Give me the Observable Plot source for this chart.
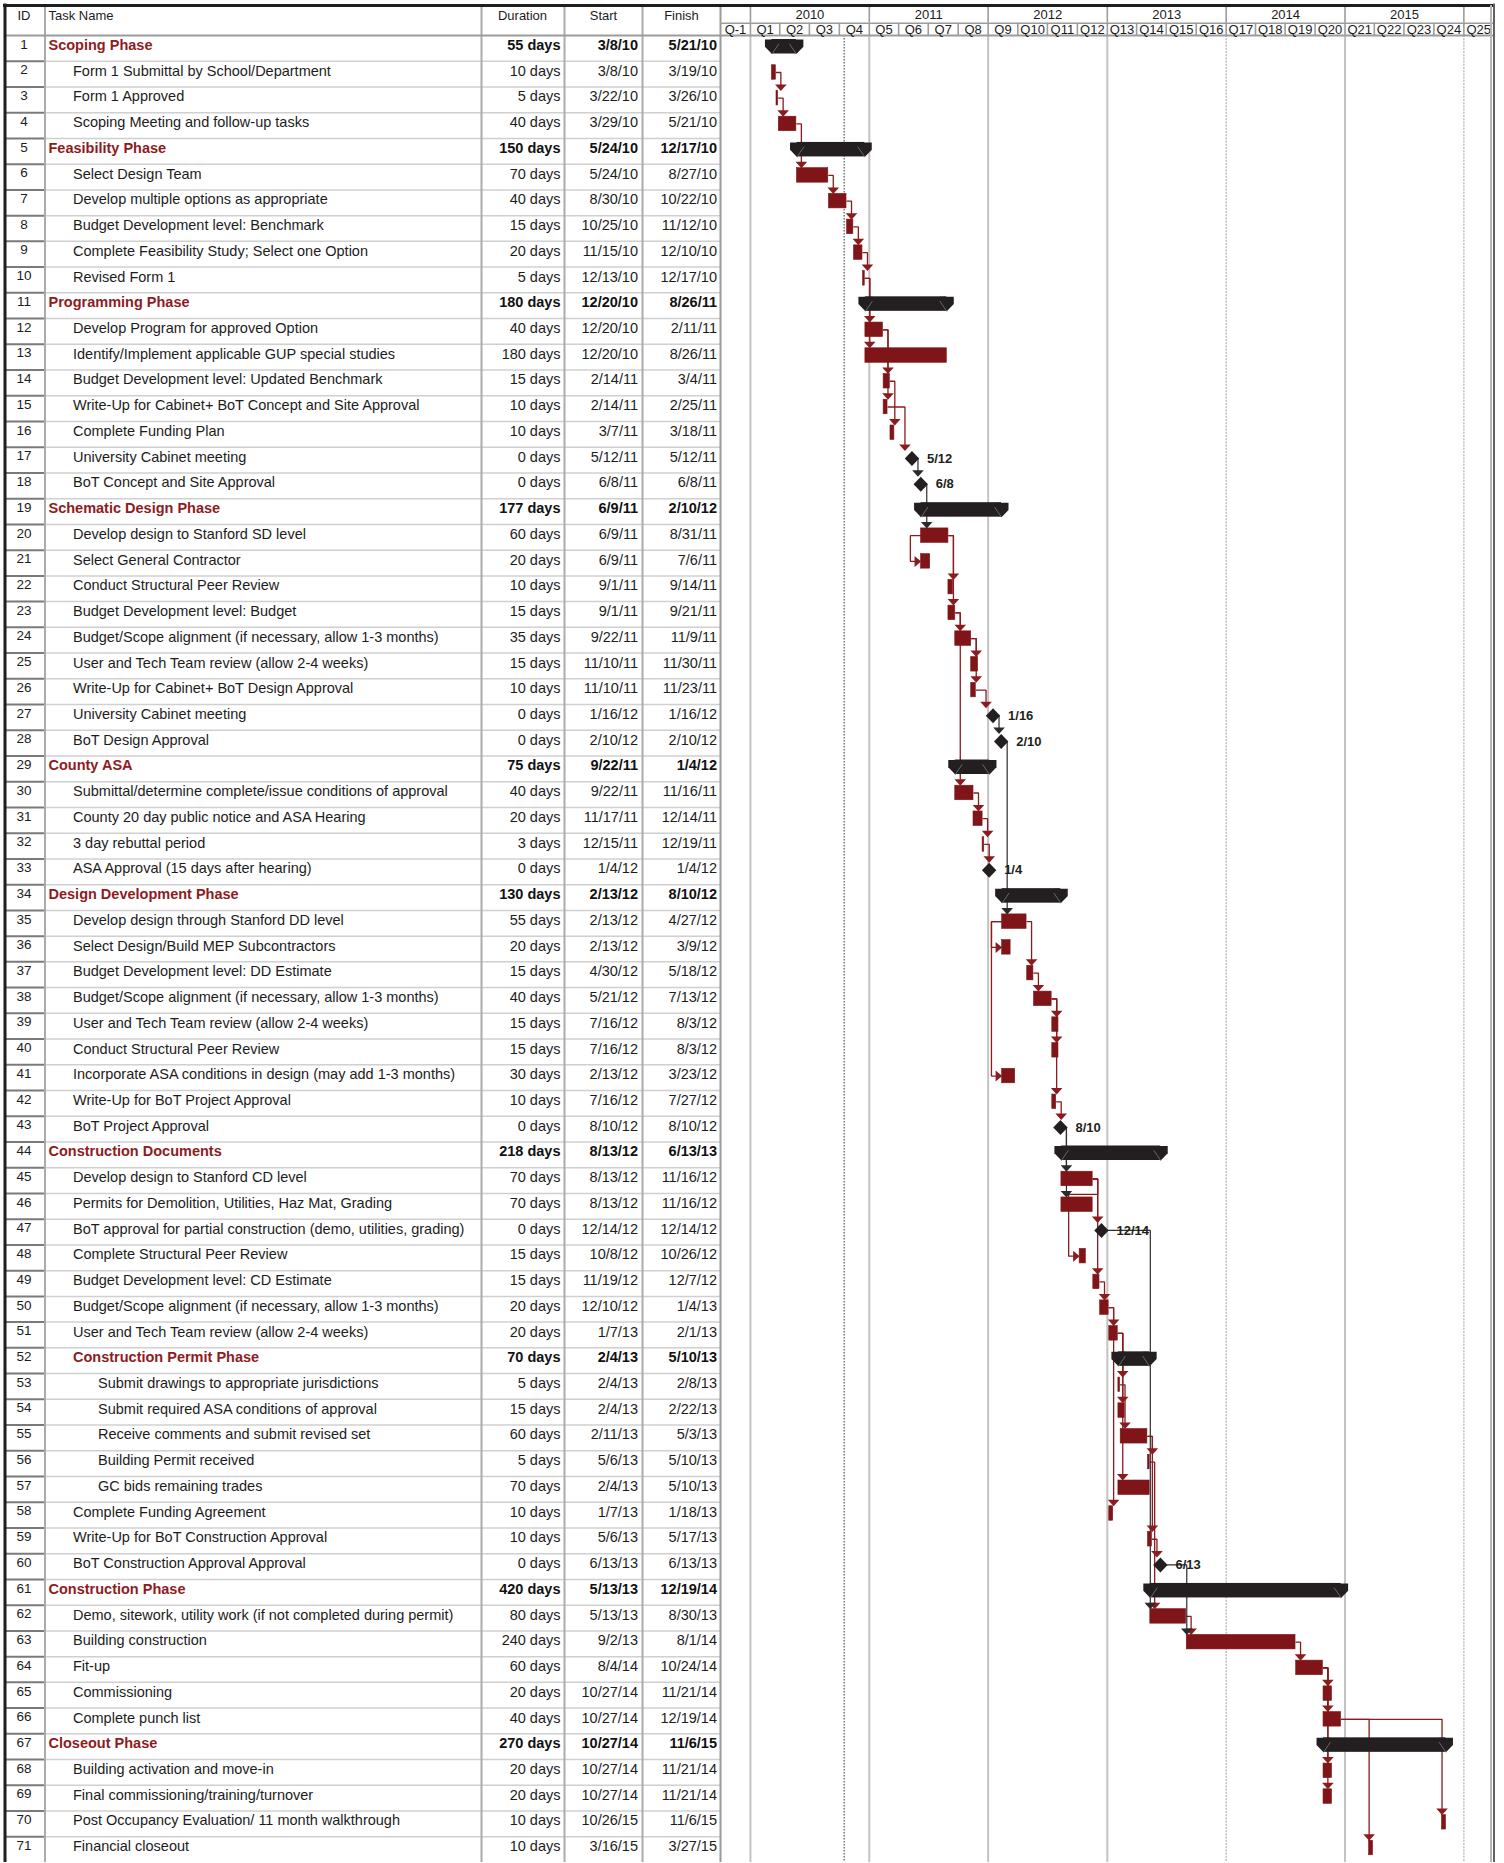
<!DOCTYPE html>
<html><head><meta charset="utf-8">
<script src="https://cdn.jsdelivr.net/npm/d3@7"></script>
<script src="https://cdn.jsdelivr.net/npm/@observablehq/plot@0.6"></script>
<style>html,body{margin:0;padding:0;background:#fff;} #chart svg{display:block;}</style>
</head><body><div id="chart"></div>
<script>
// ---------------- DATA ----------------
const taskIds = [1,2,3,4,5,6,7,8,9,10,11,12,13,14,15,16,17,18,19,20,21,22,23,24,25,26,27,28,29,30,31,32,33,34,35,36,37,38,39,40,41,42,43,44,45,46,47,48,49,50,51,52,53,54,55,56,57,58,59,60,61,62,63,64,65,66,67,68,69,70,71];
const taskNames = [
"Scoping Phase","Form 1 Submittal by School/Department","Form 1 Approved","Scoping Meeting and follow-up tasks",
"Feasibility Phase","Select Design Team","Develop multiple options as appropriate","Budget Development level: Benchmark",
"Complete Feasibility Study; Select one Option","Revised Form 1",
"Programming Phase","Develop Program for approved Option","Identify/Implement applicable GUP special studies",
"Budget Development level: Updated Benchmark","Write-Up for Cabinet+ BoT Concept and Site Approval","Complete Funding Plan",
"University Cabinet meeting","BoT Concept and Site Approval",
"Schematic Design Phase","Develop design to Stanford SD level","Select General Contractor","Conduct Structural Peer Review",
"Budget Development level: Budget","Budget/Scope alignment (if necessary, allow 1-3 months)","User and Tech Team review (allow 2-4 weeks)",
"Write-Up for Cabinet+ BoT Design Approval","University Cabinet meeting","BoT Design Approval",
"County ASA","Submittal/determine complete/issue conditions of approval","County 20 day public notice and ASA Hearing",
"3 day rebuttal period","ASA Approval (15 days after hearing)",
"Design Development Phase","Develop design through Stanford DD level","Select Design/Build MEP Subcontractors",
"Budget Development level: DD Estimate","Budget/Scope alignment (if necessary, allow 1-3 months)","User and Tech Team review (allow 2-4 weeks)",
"Conduct Structural Peer Review","Incorporate ASA conditions in design (may add 1-3 months)","Write-Up for BoT Project Approval","BoT Project Approval",
"Construction Documents","Develop design to Stanford CD level","Permits for Demolition, Utilities, Haz Mat, Grading",
"BoT approval for partial construction (demo, utilities, grading)","Complete Structural Peer Review","Budget Development level: CD Estimate",
"Budget/Scope alignment (if necessary, allow 1-3 months)","User and Tech Team review (allow 2-4 weeks)",
"Construction Permit Phase","Submit drawings to appropriate jurisdictions","Submit required ASA conditions of approval",
"Receive comments and submit revised set","Building Permit received","GC bids remaining trades",
"Complete Funding Agreement","Write-Up for BoT Construction Approval","BoT Construction Approval Approval",
"Construction Phase","Demo, sitework, utility work (if not completed during permit)","Building construction","Fit-up",
"Commissioning","Complete punch list",
"Closeout Phase","Building activation and move-in","Final commissioning/training/turnover",
"Post Occupancy Evaluation/ 11 month walkthrough","Financial closeout"];
// S = summary, T = task, M = milestone
const taskKinds = ["S","T","T","T","S","T","T","T","T","T","S","T","T","T","T","T","M","M","S","T","T","T","T","T","T","T","M","M","S","T","T","T","M","S","T","T","T","T","T","T","T","T","M","S","T","T","M","T","T","T","T","S","T","T","T","T","T","T","T","M","S","T","T","T","T","T","S","T","T","T","T"];
const taskLevels = [0,1,1,1,0,1,1,1,1,1,0,1,1,1,1,1,1,1,0,1,1,1,1,1,1,1,1,1,0,1,1,1,1,0,1,1,1,1,1,1,1,1,1,0,1,1,1,1,1,1,1,1,2,2,2,2,2,1,1,1,0,1,1,1,1,1,0,1,1,1,1];
const taskDurations = ["55 days","10 days","5 days","40 days","150 days","70 days","40 days","15 days","20 days","5 days","180 days","40 days","180 days","15 days","10 days","10 days","0 days","0 days","177 days","60 days","20 days","10 days","15 days","35 days","15 days","10 days","0 days","0 days","75 days","40 days","20 days","3 days","0 days","130 days","55 days","20 days","15 days","40 days","15 days","15 days","30 days","10 days","0 days","218 days","70 days","70 days","0 days","15 days","15 days","20 days","20 days","70 days","5 days","15 days","60 days","5 days","70 days","10 days","10 days","0 days","420 days","80 days","240 days","60 days","20 days","40 days","270 days","20 days","20 days","10 days","10 days"];
const taskStarts = ["3/8/10","3/8/10","3/22/10","3/29/10","5/24/10","5/24/10","8/30/10","10/25/10","11/15/10","12/13/10","12/20/10","12/20/10","12/20/10","2/14/11","2/14/11","3/7/11","5/12/11","6/8/11","6/9/11","6/9/11","6/9/11","9/1/11","9/1/11","9/22/11","11/10/11","11/10/11","1/16/12","2/10/12","9/22/11","9/22/11","11/17/11","12/15/11","1/4/12","2/13/12","2/13/12","2/13/12","4/30/12","5/21/12","7/16/12","7/16/12","2/13/12","7/16/12","8/10/12","8/13/12","8/13/12","8/13/12","12/14/12","10/8/12","11/19/12","12/10/12","1/7/13","2/4/13","2/4/13","2/4/13","2/11/13","5/6/13","2/4/13","1/7/13","5/6/13","6/13/13","5/13/13","5/13/13","9/2/13","8/4/14","10/27/14","10/27/14","10/27/14","10/27/14","10/27/14","10/26/15","3/16/15"];
const taskFinishes = ["5/21/10","3/19/10","3/26/10","5/21/10","12/17/10","8/27/10","10/22/10","11/12/10","12/10/10","12/17/10","8/26/11","2/11/11","8/26/11","3/4/11","2/25/11","3/18/11","5/12/11","6/8/11","2/10/12","8/31/11","7/6/11","9/14/11","9/21/11","11/9/11","11/30/11","11/23/11","1/16/12","2/10/12","1/4/12","11/16/11","12/14/11","12/19/11","1/4/12","8/10/12","4/27/12","3/9/12","5/18/12","7/13/12","8/3/12","8/3/12","3/23/12","7/27/12","8/10/12","6/13/13","11/16/12","11/16/12","12/14/12","10/26/12","12/7/12","1/4/13","2/1/13","5/10/13","2/8/13","2/22/13","5/3/13","5/10/13","5/10/13","1/18/13","5/17/13","6/13/13","12/19/14","8/30/13","8/1/14","10/24/14","11/21/14","12/19/14","11/6/15","11/21/14","11/21/14","11/6/15","3/27/15"];
// finish-to-start links [predecessor, successor]
const fsLinks = [[2,3],[3,4],[4,6],[6,7],[7,8],[8,9],[9,10],[10,12],[10,13],[12,14],[12,15],[14,16],[15,17],[17,18],[18,20],[20,22],[20,23],[23,24],[23,30],[24,25],[24,26],[26,27],[27,28],[28,35],[30,31],[31,32],[32,33],[35,37],[37,38],[38,39],[38,40],[38,42],[42,43],[43,45],[43,46],[45,47],[45,48],[45,49],[47,62],[49,50],[50,51],[50,58],[51,53],[51,54],[51,57],[53,55],[55,56],[55,59],[56,62],[59,60],[60,63],[62,63],[63,64],[64,65],[64,66],[64,68],[64,69],[66,70],[66,71]];
// start-to-start links
const ssLinks = [[20,21],[35,36],[35,41]];
const headerLabels = ["ID","Task Name","Duration","Start","Finish"];
const yearLabels = ["2010","2011","2012","2013","2014","2015"];
const quarterLabels = ["Q-1","Q1","Q2","Q3","Q4","Q5","Q6","Q7","Q8","Q9","Q10","Q11","Q12","Q13","Q14","Q15","Q16","Q17","Q18","Q19","Q20","Q21","Q22","Q23","Q24","Q25"];
const statusDate = "10/16/10";

// ---------------- LAYOUT ----------------
const FONT = "'Liberation Sans', Arial, Helvetica, sans-serif";
const W = 1504, H = 1863, ML = 720, MR = 11, MT = 35, MB = 1;
const NROWS = taskIds.length;
const RH = (H - MT - MB) / NROWS;
const X0 = new Date(Date.UTC(2009, 9, 1)), X1 = new Date(Date.UTC(2016, 3, 1));
const MSPX = (X1 - X0) / (W - ML - MR);
const DAY = 864e5;
const parse = s => { const [m, d, y] = s.split("/").map(Number); return new Date(Date.UTC(2000 + y, m - 1, d)); };
const shift = (date, px) => new Date(+date + px * MSPX);
const ry = px => px / RH;
const hy = px => (px - MT) / RH;
const qStart = k => new Date(Date.UTC(2009, 9 + 3 * k, 1));
const yStart = y => new Date(Date.UTC(y, 0, 1));

const RED = "#7f1518", RED_TEXT = "#8e1b1e", LINK_RED = "#8a1c1f", DARK = "#231f20", TXT = "#1c1c1c";
const FS_BODY = 14.5;

const tasks = taskIds.map((id, i) => {
  const kind = taskKinds[i];
  const s = parse(taskStarts[i]);
  const e = kind === "M" ? s : new Date(+parse(taskFinishes[i]) + DAY);
  return {id, kind, level: taskLevels[i], name: taskNames[i], dur: taskDurations[i],
    start: taskStarts[i], finish: taskFinishes[i], s, e, top: i,
    barTop: i + ry(4), barBot: i + ry(18.5), mid: i + ry(11.25), textY: i + ry(9.8), idY: i + ry(8.8)};
});
const summaries = tasks.filter(d => d.kind === "S");
const bars = tasks.filter(d => d.kind === "T");
const milestones = tasks.filter(d => d.kind === "M");

// link routing
const linkPts = {red: [], dark: []}, arrDown = {red: [], dark: []}, arrRight = {red: [], dark: []};
function addLink(p, q, type) {
  const P = tasks[p - 1], S = tasks[q - 1];
  const c = P.kind === "M" ? "dark" : "red";
  const key = p + "-" + q;
  let pts;
  if (type === "SS") {
    const lx = shift(P.s, -10.7);
    pts = [[P.s, P.mid], [lx, P.mid], [lx, S.mid], [shift(S.s, -3), S.mid]];
    arrRight[c].push({x: S.s, y: S.mid});
  } else {
    const pEnd = P.kind === "M" ? shift(P.s, 1) : P.e;
    const sLeft = S.kind === "M" ? shift(S.s, -7) : S.s;
    const tipY = S.kind === "M" ? S.mid - ry(7.5) : S.barTop;
    if (+sLeft < +shift(pEnd, -3)) {
      const vx = shift(pEnd, 5), yy = P.top + 1 + ry(1), lx = shift(S.s, -11);
      pts = [[pEnd, P.mid], [vx, P.mid], [vx, yy], [lx, yy], [lx, S.mid], [shift(S.s, -3), S.mid]];
      arrRight[c].push({x: S.s, y: S.mid});
    } else {
      const vx = new Date(Math.max(+shift(pEnd, 5), +sLeft));
      pts = [[pEnd, P.mid], [vx, P.mid], [vx, tipY - ry(3)]];
      arrDown[c].push({x: vx, y: tipY});
    }
  }
  pts.forEach(([x, y]) => linkPts[c].push({key, x, y}));
}
fsLinks.forEach(([p, q]) => addLink(p, q, "FS"));
ssLinks.forEach(([p, q]) => addLink(p, q, "SS"));

// custom symbols
const capSym = {draw(c) { c.moveTo(-7, -7.25); c.lineTo(7, -7.25); c.lineTo(7, 0); c.lineTo(0, 7.25); c.lineTo(-7, 0); c.closePath(); }};
const capLineL = {draw(c) { c.moveTo(0, 7.25); c.lineTo(7, -3); }};
const capLineR = {draw(c) { c.moveTo(0, 7.25); c.lineTo(-7, -3); }};
const diamondSym = {draw(c) { c.moveTo(0, -7.5); c.lineTo(7.2, 0); c.lineTo(0, 7.5); c.lineTo(-7.2, 0); c.closePath(); }};
const downSym = {draw(c) { c.moveTo(-5.8, -6.5); c.lineTo(5.8, -6.5); c.lineTo(0, 0); c.closePath(); }};
const rightSym = {draw(c) { c.moveTo(-6.5, -5.5); c.lineTo(0, 0); c.lineTo(-6.5, 5.5); c.closePath(); }};

const rowBounds = d3.range(1, NROWS);
const colLines = [44.5, 481, 564, 642];
const headerPos = [[23.5, "middle"], [48, "start"], [522, "middle"], [603, "middle"], [681, "middle"]];

const nameGroups = [
  {f: d => d.kind === "S" && d.level === 0, x: 48, bold: true},
  {f: d => d.kind === "S" && d.level === 1, x: 72.5, bold: true},
  {f: d => d.kind !== "S" && d.level === 1, x: 72.5, bold: false},
  {f: d => d.level === 2, x: 97.5, bold: false}
];
const numCols = [["dur", 560], ["start", 637.5], ["finish", 716.5]];

const marks = [
  // table row lines
  Plot.ruleY(rowBounds, {x1: X0, x2: X0, insetLeft: -(ML - 44.5), stroke: "#d0d0d0", strokeWidth: 1.5}),
  Plot.ruleY(rowBounds, {x1: X0, x2: X0, insetLeft: -(ML - 5), insetRight: ML - 44.5, stroke: "#7a7a7a", strokeWidth: 2}),
  // column dividers
  ...colLines.map(px => Plot.ruleX([X0], {dx: px - ML, y1: hy(5), y2: NROWS, stroke: "#ababab", strokeWidth: 2})),
  Plot.ruleX([X0], {y1: hy(5), y2: NROWS, stroke: "#9a9a9a", strokeWidth: 2}),
  // chart grid
  Plot.ruleX([2010, 2011, 2012, 2013, 2015].map(yStart), {y1: 0, y2: NROWS, stroke: "#c3c3c3", strokeWidth: 2}),
  Plot.ruleX([2014, 2016].map(yStart), {y1: 0, y2: NROWS, stroke: "#c3c3c3", strokeWidth: 1.6, strokeDasharray: "2,1.2"}),
  Plot.ruleX([parse(statusDate)], {y1: 0, y2: NROWS, stroke: "#7c7c7c", strokeWidth: 1.6, strokeDasharray: "1.5,1.5"}),
  // header grid
  Plot.ruleX(d3.range(1, 26).map(qStart), {y1: hy(22.7), y2: 0, stroke: "#9c9c9c", strokeWidth: 1.6}),
  Plot.ruleX(d3.range(2010, 2017).map(yStart), {y1: hy(5), y2: hy(22.7), stroke: "#9c9c9c", strokeWidth: 1.6}),
  Plot.ruleY([hy(22.7)], {x1: X0, x2: X1, stroke: "#9c9c9c", strokeWidth: 1.6}),
  Plot.ruleY([0], {x1: X0, x2: X1, insetLeft: -(ML - 5), stroke: "#9c9c9c", strokeWidth: 2}),
  // header texts
  ...headerLabels.map((lab, i) => Plot.text([lab], {text: d => d, y: hy(15), frameAnchor: "left", dx: headerPos[i][0] - ML, textAnchor: headerPos[i][1], fontSize: 13, fill: TXT, fontFamily: FONT})),
  Plot.text(yearLabels, {x: d => new Date((+yStart(+d) + +yStart(+d + 1)) / 2), y: hy(14.2), text: d => d, fontSize: 13, fill: TXT, fontFamily: FONT}),
  Plot.text(quarterLabels, {x: (d, i) => new Date((+qStart(i) + +qStart(i + 1)) / 2), y: hy(29.3), text: d => d, fontSize: 13, fill: TXT, fontFamily: FONT}),
  // links
  Plot.line(linkPts.red, {x: "x", y: "y", z: "key", stroke: LINK_RED, strokeWidth: 1.3, curve: "linear", strokeLinejoin: "miter", strokeLinecap: "butt"}),
  Plot.line(linkPts.dark, {x: "x", y: "y", z: "key", stroke: "#2e2e2e", strokeWidth: 1.2, curve: "linear", strokeLinejoin: "miter", strokeLinecap: "butt"}),
  // summary bars
  Plot.rect(summaries, {x1: "s", x2: "e", y1: "barTop", y2: "barBot", fill: DARK}),
  Plot.dot(summaries, {x: "s", y: "mid", symbol: capSym, fill: DARK}),
  Plot.dot(summaries, {x: "e", y: "mid", symbol: capSym, fill: DARK}),
  Plot.dot(summaries, {x: "s", y: "mid", symbol: capLineL, fill: "none", stroke: "#6f6f6f", strokeWidth: 0.9}),
  Plot.dot(summaries, {x: "e", y: "mid", symbol: capLineR, fill: "none", stroke: "#6f6f6f", strokeWidth: 0.9}),
  // task bars
  Plot.rect(bars, {x1: "s", x2: "e", y1: "barTop", y2: "barBot", fill: RED, stroke: RED, strokeWidth: 0.6}),
  // milestones
  Plot.dot(milestones, {x: "s", y: "mid", symbol: diamondSym, fill: DARK}),
  // arrow heads
  Plot.dot(arrDown.red, {x: "x", y: "y", symbol: downSym, fill: LINK_RED}),
  Plot.dot(arrDown.dark, {x: "x", y: "y", symbol: downSym, fill: "#2a2a2a"}),
  Plot.dot(arrRight.red, {x: "x", y: "y", symbol: rightSym, fill: LINK_RED}),
  Plot.dot(arrRight.dark, {x: "x", y: "y", symbol: rightSym, fill: "#2a2a2a"}),
  // milestone labels
  Plot.text(milestones, {x: "s", y: "mid", text: d => d.start.replace(/\/\d+$/, ""), dx: 15, textAnchor: "start", fontWeight: "bold", fontSize: 13, fill: DARK, fontFamily: FONT}),
  // table body
  Plot.text(tasks, {y: "idY", text: "id", frameAnchor: "left", dx: 23.5 - ML, textAnchor: "middle", fontSize: 13.5, fill: TXT, fontFamily: FONT}),
  ...nameGroups.map(g => Plot.text(tasks.filter(g.f), {y: "textY", text: "name", frameAnchor: "left", dx: g.x - ML, textAnchor: "start", fontSize: FS_BODY, fontWeight: g.bold ? "bold" : "normal", fill: g.bold ? RED_TEXT : TXT, fontFamily: FONT})),
  ...numCols.flatMap(([k, px]) => [
    Plot.text(tasks.filter(d => d.kind !== "S"), {y: "textY", text: k, frameAnchor: "left", dx: px - ML, textAnchor: "end", fontSize: FS_BODY, fill: TXT, fontFamily: FONT}),
    Plot.text(summaries, {y: "textY", text: k, frameAnchor: "left", dx: px - ML, textAnchor: "end", fontSize: FS_BODY, fontWeight: "bold", fill: "#111", fontFamily: FONT})
  ]),
  // outer borders
  Plot.ruleY([hy(5)], {x1: X0, x2: X1, insetLeft: -(ML - 3), stroke: "#1e1e1e", strokeWidth: 3}),
  Plot.ruleX([X0], {dx: 4.5 - ML, y1: hy(3.5), y2: NROWS, stroke: "#1e1e1e", strokeWidth: 3}),
  Plot.ruleX([X1], {dx: -2.5, y1: hy(5), y2: NROWS, stroke: "#b5b5b5", strokeWidth: 2}),
  Plot.ruleX([X1], {dx: 0.5, y1: hy(3.5), y2: NROWS, stroke: "#3a3a3a", strokeWidth: 1.6})
];

const chart = Plot.plot({
  width: W, height: H,
  marginLeft: ML, marginRight: MR, marginTop: MT, marginBottom: MB,
  x: {type: "utc", domain: [X0, X1], axis: null},
  y: {type: "linear", domain: [0, NROWS], reverse: true, axis: null},
  style: {fontFamily: FONT, background: "#fff", color: TXT, overflow: "visible"},
  marks
});
document.getElementById("chart").append(chart);
</script></body></html>
